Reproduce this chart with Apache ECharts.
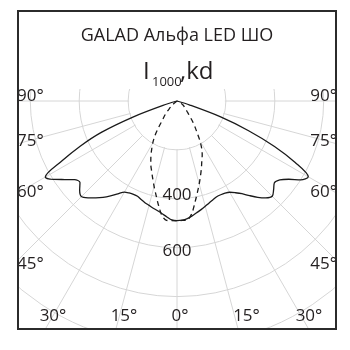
<!DOCTYPE html>
<html><head><meta charset="utf-8">
<script src="https://cdn.jsdelivr.net/npm/echarts@6/dist/echarts.min.js"></script>
<style>
html,body{margin:0;padding:0;background:#fff;}
#frame{position:absolute;left:17px;top:10px;width:320px;height:320px;box-sizing:border-box;border:2px solid #2b2b2b;overflow:hidden;}
#chart{width:316px;height:316px;}
</style></head><body>
<div id="frame"><div id="chart"></div></div>
<script>
// ---- data ----
const chartTitle = 'GALAD Альфа LED ШО';
const unitMain = 'I';
const unitSub = '1000';
const unitTail = ',kd';
const gamma = [0,2.5,5,7.5,10,12.5,15,17.5,20,22.5,25,27.5,30,32.5,35,37.5,40,42.5,45,47.5,50,52.5,55,57.5,60,62.5,65,67.5,70,72.5,75,80,85,90];
// C0 plane (right half, solid)
const intensityC0   = [489,488,483,474,464,455,446,437,430,424,423,425,431,445,463,488,514,537,551,536,520,530,558,600,620,545,440,315,190,55,0,0,0,0];
// C180 plane (left half, solid)
const intensityC180 = [489,487,476,465,456,449,442,436,429,422,421,424,430,450,474,497,517,537,553,540,518,528,560,597,622,530,437,335,192,60,0,0,0,0];
// C90 plane (right half, dashed)
const intensityC90  = [490,489,488,464,422,384,351,320,292,265,244,219,187,152,127,104,80,66,54,46,40,36,33,28,20,10,0,0,0,0,0,0,0,0];
// C270 plane (left half, dashed)
const intensityC270 = [490,490,490,472,434,395,362,331,304,280,253,225,198,168,130,96,80,62,45,30,18,8,0,0,0,0,0,0,0,0,0,0,0,0];
const radiusMax = 1200;
const radiusStep = 200;
const radiusTickLabels = [400, 600];
const sideAngleLabels = ['90°','75°','60°','45°'];
const bottomAngleLabels = ['30°','15°','0°','15°','30°'];

// ---- layout ----
const FONT = '"Open Sans", "Noto Sans", sans-serif';
const TXT = '#231f20';
const CX = 158, CY = 89;            // polar centre inside the canvas
const PX_PER_STEP = 48.9;           // pixels per 200 cd
const R = radiusMax / radiusStep * PX_PER_STEP;

function half(values, sign){ return gamma.map((g,i)=>[values[i], sign*g]); }
const solid = half(intensityC180,-1).reverse().concat(half(intensityC0,1).slice(1));
const dashed = half(intensityC270,-1).reverse().concat(half(intensityC90,1).slice(1));

const chart = echarts.init(document.getElementById('chart'), null, {renderer:'canvas'});

const sideY = [84, 129.5, 180, 252.5];
const bottomX = [34, 105, 161, 227.5, 290];
const LF = '17px '+FONT;
const g = [];
g.push({type:'rect', shape:{x:0,y:0,width:316,height:CY-12}, style:{fill:'#fff'}, z:1, silent:true});
g.push({type:'circle', shape:{cx:CX, cy:CY, r:PX_PER_STEP-1}, style:{fill:'#fff'}, z:1, silent:true});
sideAngleLabels.forEach((t,i)=>{
  g.push({type:'text', x:-2, y:sideY[i], z:5, style:{text:t, font:LF, fill:TXT, align:'left', verticalAlign:'middle'}});
  g.push({type:'text', x:318, y:sideY[i], z:5, style:{text:t, font:LF, fill:TXT, align:'right', verticalAlign:'middle'}});
});
bottomAngleLabels.forEach((t,i)=>{
  g.push({type:'text', x:bottomX[i], y:304, z:5, style:{text:t, font:LF, fill:TXT, align:'center', verticalAlign:'middle'}});
});
radiusTickLabels.forEach((v,i)=>{
  const py = CY + v/radiusStep*PX_PER_STEP + (i===0?-4:3);
  g.push({type:'text', x:CX, y:py, z:5, style:{text:String(v), font:LF, fill:TXT, align:'center', verticalAlign:'middle'}});
});
g.push({type:'text', x:124, y:60, z:5, style:{text:unitMain, font:'24px '+FONT, fill:TXT, align:'left', verticalAlign:'middle'}});
g.push({type:'text', x:133, y:70, z:5, style:{text:unitSub, font:'13px '+FONT, fill:TXT, align:'left', verticalAlign:'middle'}});
g.push({type:'text', x:161, y:60, z:5, style:{text:unitTail, font:'24px '+FONT, fill:TXT, align:'left', verticalAlign:'middle'}});

chart.setOption({
  animation:false,
  title:{text:chartTitle, left:'center', top:15, padding:0, textStyle:{fontFamily:FONT, fontSize:18, fontWeight:'normal', color:TXT}},
  polar:{center:[CX,CY], radius:R},
  angleAxis:{type:'value', min:-180, max:180, interval:15, startAngle:90, clockwise:false, z:0,
    axisLine:{show:false}, axisTick:{show:false}, axisLabel:{show:false},
    splitLine:{show:true, lineStyle:{color:'#d6d6d6', width:1}}},
  radiusAxis:{type:'value', min:0, max:radiusMax, interval:radiusStep, z:0,
    axisLine:{show:false}, axisTick:{show:false}, axisLabel:{show:false},
    splitLine:{show:true, lineStyle:{color:'#d6d6d6', width:1}}},
  graphic:{elements:g},
  series:[
    {type:'line', coordinateSystem:'polar', data:solid, showSymbol:false, smooth:0.3, z:3,
      lineStyle:{color:'#1a1a1a', width:1.3}},
    {type:'line', coordinateSystem:'polar', data:dashed, showSymbol:false, smooth:0.3, z:3,
      lineStyle:{color:'#1a1a1a', width:1.3, type:[5,4]}}
  ]
});
</script>
</body></html>
